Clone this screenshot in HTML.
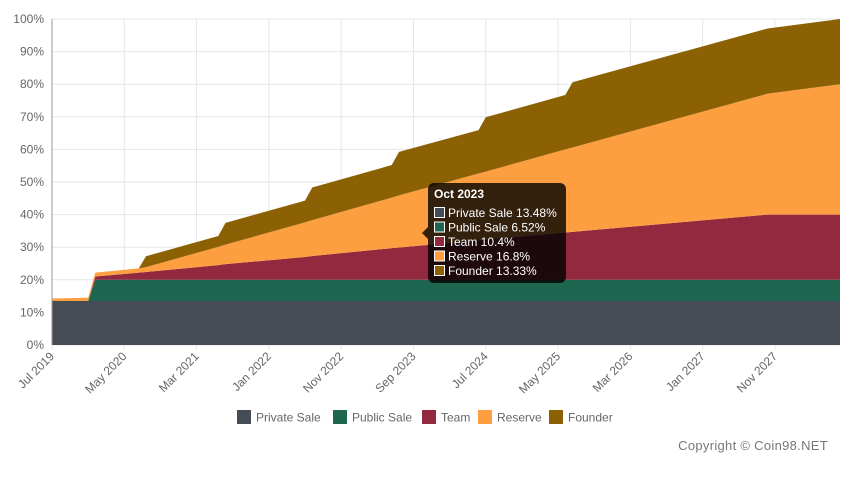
<!DOCTYPE html>
<html><head><meta charset="utf-8"><style>
body{margin:0;background:#fff;font-family:"Liberation Sans",sans-serif}
svg text{font-family:"Liberation Sans",sans-serif}
</style></head><body>
<svg id="c" width="857" height="472"></svg>
<script>
const months=[0,5,6,12,13,23,24,35,36,47,48,59,60,71,72,99,109];
const privateSale=[13.48,13.48,13.48,13.48,13.48,13.48,13.48,13.48,13.48,13.48,13.48,13.48,13.48,13.48,13.48,13.48,13.48];
const publicSale=[0,0,6.52,6.52,6.52,6.52,6.52,6.52,6.52,6.52,6.52,6.52,6.52,6.52,6.52,6.52,6.52];
const team=[0,0,1.0,2.2,2.4,4.5,4.8,7.0,7.3,9.7,9.9,12.1,12.3,14.5,14.7,20,20];
const reserve=[0.8,1.0,1.2,1.3,1.5,5.6,6.0,10.6,11.0,15.5,16.0,20.5,20.9,25.5,25.9,37.1,40];
const founder=[0,0,0,0,3.33,3.33,6.67,6.67,10,10,13.33,13.33,16.67,16.67,20,20,20];
const seriesNames=["Private Sale","Public Sale","Team","Reserve","Founder"];
const colors=["#464c56","#1e6650","#93293f","#fd9f40","#8b6104"];
const yTicks=[0,10,20,30,40,50,60,70,80,90,100];
const xTickMonths=[0,10,20,30,40,50,60,70,80,90,100];
const xTickLabels=["Jul 2019","May 2020","Mar 2021","Jan 2022","Nov 2022","Sep 2023","Jul 2024","May 2025","Mar 2026","Jan 2027","Nov 2027"];
const tipTitle="Oct 2023";
const tipValues=["13.48%","6.52%","10.4%","16.8%","13.33%"];

const NS="http://www.w3.org/2000/svg";
const svg=document.getElementById('c');
const L=52,R=840,T=19,B=345,M0=0,M1=109;
const x=m=>L+(m-M0)/(M1-M0)*(R-L);
const y=v=>B-v/100*(B-T);
function el(t,a,p){const e=document.createElementNS(NS,t);for(const k in a)e.setAttribute(k,a[k]);(p||svg).appendChild(e);return e;}

yTicks.forEach(v=>{
  const g=el('line',{x1:L,x2:R,y1:y(v),y2:y(v),stroke:'#e6e6e6'});
  
  
  const t=el('text',{x:L-8,y:y(v)+4,'text-anchor':'end','font-size':12,fill:'#666'});
  t.textContent=v+'%';
  
  
});
xTickMonths.forEach((m,i)=>{
  const g=el('line',{x1:x(m),x2:x(m),y1:T,y2:B+5,stroke:'#e6e6e6'});
  
  
  const t=el('text',{x:x(m)+3,y:B+12,'text-anchor':'end','font-size':12,fill:'#666',transform:`rotate(-45 ${x(m)+3} ${B+12})`});
  t.textContent=xTickLabels[i];
  
  
});

const series=[privateSale,publicSale,team,reserve,founder];
let base=months.map(()=>0);
series.forEach((s,si)=>{
  const top=base.map((b,i)=>b+s[i]);
  let d='M'+months.map((m,i)=>x(m)+','+y(top[i])).join('L');
  for(let i=months.length-1;i>=0;i--)d+='L'+x(months[i])+','+y(base[i]);
  const p=el('path',{d:d+'Z',fill:colors[si]});
  
  
  base=top;
});
const ax=el('line',{x1:L,x2:L,y1:T,y2:B,stroke:'#999'});



const tg=el('g',{});


el('path',{d:'M434,183h126a6,6 0 0 1 6,6v88a6,6 0 0 1 -6,6h-126a6,6 0 0 1 -6,-6v-38l-6,-6l6,-6v-38a6,6 0 0 1 6,-6z',fill:'rgba(0,0,0,0.8)'},tg);
const tt=el('text',{x:434,y:198,'font-size':12,'font-weight':'bold',fill:'#fff'},tg);
tt.textContent=tipTitle;
tipValues.forEach((v,i)=>{
  const yy=213+i*14.5;
  el('rect',{x:434.5,y:yy-5.5,width:10,height:10,fill:colors[i],stroke:'#fff','stroke-width':1},tg);
  const t=el('text',{x:448,y:yy+4,'font-size':12,fill:'#fff'},tg);
  t.textContent=seriesNames[i]+' '+v;
  
  
});

const lx=[237,333,422,478,549];
seriesNames.forEach((n,i)=>{
  const g=el('g',{});
  
  
  el('rect',{x:lx[i],y:410,width:14,height:14,fill:colors[i]},g);
  const t=el('text',{x:lx[i]+19,y:421.5,'font-size':12,fill:'#666'},g);
  t.textContent=n;
});
const cp=el('text',{x:828,y:450,'text-anchor':'end','font-size':13,fill:'#777','letter-spacing':'0.3'});
cp.textContent='Copyright © Coin98.NET';


</script>
</body></html>
